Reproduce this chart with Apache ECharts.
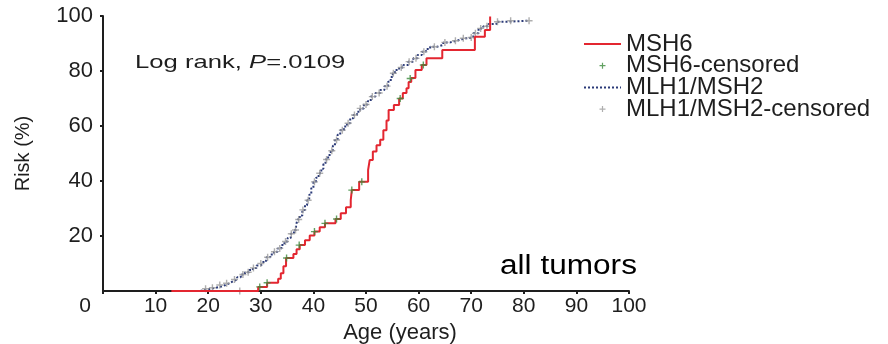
<!DOCTYPE html>
<html>
<head>
<meta charset="utf-8">
<script src="https://cdn.jsdelivr.net/npm/echarts@6/dist/echarts.min.js"></script>
<style>
html,body{margin:0;padding:0;background:#fff;}
#chart{width:888px;height:344px;}
</style>
</head>
<body>
<div id="chart"></div>
<script>
// ---- data ----
const seriesNames = ['MSH6', 'MSH6-censored', 'MLH1/MSH2', 'MLH1/MSH2-censored'];
const xTicks = [0, 10, 20, 30, 40, 50, 60, 70, 80, 90, 100];
const yTicks = [0, 20, 40, 60, 80, 100];

// MSH6 Kaplan-Meier steps [age, cumulative risk % after the step]
const msh6Steps = [
  [13,0],[29.5,1.5],[31.2,3],[33.3,4.5],[33.8,6.5],[34.3,9],[34.8,12],[36.2,13.5],[36.8,15.2],
  [37.4,16.7],[38.4,18.5],[39.3,20.2],[40.2,21.6],[41.2,23.2],[42.2,24.6],[44.2,26.2],
  [45.2,28.3],[46.2,30.5],[47.1,33],[47.3,36.7],[48.7,39.7],[50.4,44],[50.7,47.6],
  [51.3,50.7],[52,53],[52.7,55],[53.3,58.5],[53.9,62],[54.3,65.8],[55.3,67.6],[56.3,70],
  [57,72],[57.7,73.7],[58.1,76],[58.6,77.5],[59.4,80.4],[60.6,82.2],[61.5,84.6],
  [64.5,87.6],[70.7,92.5],[72.6,94.9],[73.6,99.8]
];
const msh6Censored = [
  [29.8,1.5],[31.2,3],[34.9,12],[37.3,16.7],[40.2,21.6],[42.2,24.6],[44.4,26.2],
  [47.3,36.7],[49.2,39.7],[56.5,70],[58.4,77.3],[60.9,82.2]
];

// MLH1/MSH2 Kaplan-Meier steps
const mlhSteps = [
  [17,0],[18.5,0.5],[19.5,0.8],[20.5,1.2],[21.5,1.6],[22.5,2.2],[23.3,2.8],[24,3.5],[24.7,4.2],
  [25.5,5],[26.2,6],[27,6.8],[27.8,7.6],[28.5,8.4],[29.2,9.3],[29.9,10],[30.5,11],[31.1,12.3],
  [31.8,13.3],[32.5,14.3],[33.2,15.5],[33.9,16.7],[34.5,18],[35.1,19.3],[35.7,20.8],
  [36.3,22.2],[36.7,24],[37,26],[37.4,27.5],[37.9,29.5],[38.4,31.2],[38.8,33],[39.2,35],
  [39.6,37.5],[40,39.7],[40.5,41.2],[41,42.8],[41.5,44.5],[41.9,46.2],[42.3,47.8],
  [42.8,49.5],[43.3,51],[43.7,52.8],[44.1,54.9],[44.6,56.8],[45.1,58.5],[45.8,59.8],
  [46.4,61],[47,62.8],[47.6,64],[48.3,65.2],[48.9,66.4],[49.6,67.8],[50.3,69],[50.9,70.7],
  [51.8,72],[52.7,73.1],[53.5,74.5],[54.2,76.1],[54.7,77.8],[55.1,79.2],[55.5,80.4],
  [56.3,81.3],[57.1,82.2],[58,83.4],[59,84.6],[59.8,85.8],[60.6,87],[61.4,88],[62.2,88.8],
  [63.5,89.5],[64.7,90.4],[66,91],[67.2,91.5],[68.2,91.9],[69.1,92.2],[70.4,93.7],
  [71.4,95.5],[72.3,96.3],[73.3,97.1],[74.8,97.9],[76.7,98.3],[80.9,98.3]
];
const mlhCensored = [
  [19.5,0.8],[20.8,1.2],[22.2,2.2],[23.5,2.8],[25,4.2],[26,0],[26.6,6],[27.6,6.8],[28.6,8.4],
  [30,10],[31.3,12.3],[32.6,14.3],[33.6,15.5],[34.7,18],[35.8,20.8],[36.6,22.2],[37.2,26],
  [38,29.5],[39,33],[40.2,39.7],[41.2,42.8],[42.5,47.8],[43.5,51],[44.4,54.9],[45.5,58.5],
  [46.6,61],[47.8,64],[48.9,66.4],[50,67.8],[51.2,70.7],[52.5,72],[54,74.5],[55.2,79.2],
  [56.7,81.3],[58.2,83.4],[59.5,84.6],[61,87],[63,88.8],[65,90.4],[67,91],[68.5,91.9],
  [70,92.2],[70.8,93.7],[71.8,95.5],[73,96.3],[75,97.9],[77.5,98.3],[81,98.3]
];
const annotationText = 'Log rank, {i|P}=.0109';
const panelText = 'all tumors';
const xName = 'Age (years)';
const yName = 'Risk (%)';

// ---- styles ----
const FONT = 'Liberation Sans, Arial, Helvetica, sans-serif';
const INK = '#1e1e1e';
const PLUS = 'path://M4,0H6V4H10V6H6V10H4V6H0V4H4Z';
const HIDE_SYMBOL = {color: 'rgba(0,0,0,0)', borderColor: 'rgba(0,0,0,0)', borderWidth: 0, opacity: 0};

const chart = echarts.init(document.getElementById('chart'), null, {renderer: 'canvas'});
chart.setOption({
  backgroundColor: '#ffffff',
  animation: false,
  grid: {left: 103, right: 259, top: 16, bottom: 53, containLabel: false, outerBoundsMode: 'none'},
  xAxis: {
    type: 'value', min: xTicks[0], max: xTicks[xTicks.length - 1], interval: 10,
    name: xName, nameLocation: 'middle', nameGap: 28,
    nameTextStyle: {fontFamily: FONT, fontSize: 22, color: INK, padding: [0, 0, 0, 68]},
    axisLine: {show: true, lineStyle: {color: INK, width: 2}},
    axisTick: {show: true, length: 3, lineStyle: {color: INK, width: 2}},
    splitLine: {show: false},
    axisLabel: {
      fontFamily: FONT, fontSize: 21, color: INK, margin: 5,
      formatter: v => v === 0 ? '{z|0}' : String(v),
      rich: {z: {fontFamily: FONT, fontSize: 21, color: INK, padding: [0, 36, 0, 0]}}
    }
  },
  yAxis: {
    type: 'value', min: yTicks[0], max: yTicks[yTicks.length - 1], interval: 20,
    name: yName, nameLocation: 'middle', nameGap: 70, nameRotate: 90,
    nameTextStyle: {fontFamily: FONT, fontSize: 20, color: INK},
    axisLine: {show: true, lineStyle: {color: INK, width: 2}},
    axisTick: {show: true, length: 3, lineStyle: {color: INK, width: 2}},
    splitLine: {show: false},
    axisLabel: {fontFamily: FONT, fontSize: 22, color: INK, margin: 10, showMinLabel: false}
  },
  legend: {
    orient: 'vertical', left: 578, top: 27, itemWidth: 37, itemHeight: 6, itemGap: -2.3,
    textStyle: {fontFamily: FONT, fontSize: 24, color: INK},
    data: [
      {name: seriesNames[0], itemStyle: HIDE_SYMBOL},
      {name: seriesNames[1], icon: PLUS},
      {name: seriesNames[2], itemStyle: HIDE_SYMBOL},
      {name: seriesNames[3], icon: PLUS}
    ]
  },
  graphic: [
    {type: 'text', x: 135, y: 53.5, scaleX: 1.35, silent: true,
     style: {text: annotationText, fontFamily: FONT, fontSize: 19, fill: INK,
             rich: {i: {fontFamily: FONT, fontSize: 19, fontStyle: 'italic', fill: INK}}}},
    {type: 'text', x: 500, y: 253, scaleX: 1.17, silent: true,
     style: {text: panelText, fontFamily: FONT, fontSize: 27, fill: '#000'}}
  ],
  series: [
    {name: seriesNames[2], type: 'line', step: 'end', data: mlhSteps, symbol: 'none', z: 2,
     lineStyle: {color: '#2b3a78', width: 2, type: [2, 2]}, itemStyle: {color: '#2b3a78'}},
    {name: seriesNames[3], type: 'scatter', data: mlhCensored, symbol: PLUS, symbolSize: 7, z: 3,
     itemStyle: {color: '#9b9b9b'}},
    {name: seriesNames[0], type: 'line', step: 'end', data: msh6Steps, symbol: 'none', z: 4,
     lineStyle: {color: '#e32630', width: 2}, itemStyle: {color: '#e32630'}},
    {name: seriesNames[1], type: 'scatter', data: msh6Censored, symbol: PLUS, symbolSize: 7, z: 5,
     itemStyle: {color: '#3b8a3b'}}
  ]
});
</script>
</body>
</html>
